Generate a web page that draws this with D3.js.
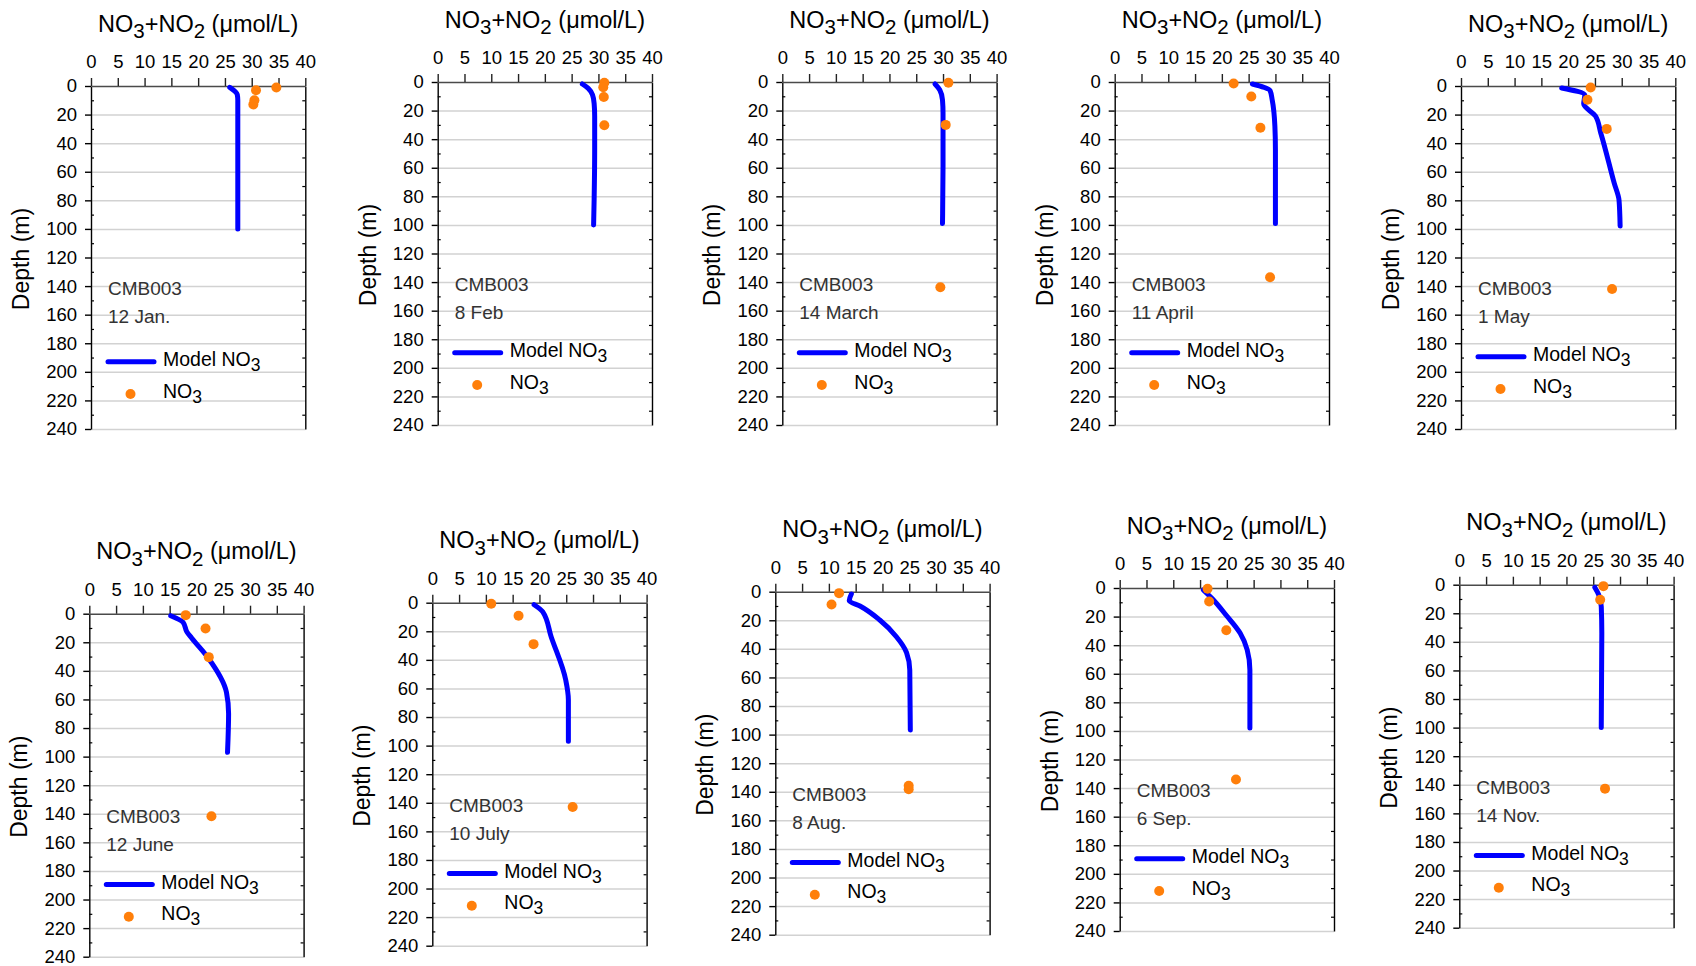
<!DOCTYPE html>
<html>
<head>
<meta charset="utf-8">
<script src="https://cdn.jsdelivr.net/npm/d3@7"></script>
<style>
  html, body { margin: 0; padding: 0; background: #fff; }
  svg { display: block; font-family: "Liberation Sans", Arial, sans-serif; }
</style>
</head>
<body>
<svg id="chart" width="1696" height="966"></svg>
<script>
// ---------------- data ----------------
const xTicks = [0, 5, 10, 15, 20, 25, 30, 35, 40];
const yTicks = [0, 20, 40, 60, 80, 100, 120, 140, 160, 180, 200, 220, 240];
const gridTicks = [20, 40, 60, 80, 100, 120, 140, 160, 180, 200, 220, 240];
const minorTicks = [10, 30, 50, 70, 90, 110, 130, 150, 170, 190, 210, 230];

const station = "CMB003";
const dates = ["12 Jan.", "8 Feb", "14 March", "11 April", "1 May",
               "12 June", "10 July", "8 Aug.", "6 Sep.", "14 Nov."];

// model NO3 profiles: [depth (m), NO3+NO2 (umol/L)]
const modelJan = [[1, 25.9], [6, 27.3], [10, 27.4], [100, 27.4]];
const modelFeb = [[1.4, 27.0], [4.4, 28.1], [9, 28.9], [15, 29.2], [24, 29.3], [48, 29.3], [82, 29.2], [100, 29.1]];
const modelMar = [[1.4, 28.5], [5.6, 29.4], [12.6, 29.9], [22, 30.0], [59, 30.0], [99, 29.9]];
const modelApr = [[1.4, 25.7], [6, 29.0], [12.6, 29.4], [31, 29.9], [47.5, 30.0], [99, 30.0]];
const modelMay = [[1.4, 18.8], [6.3, 23.1], [12.5, 22.9], [21, 25.1], [33, 26.1], [68, 28.6], [80, 29.5], [98, 29.7]];
const modelJun = [[1.4, 15.2], [6, 17.5], [12.6, 18.2], [17, 19.1], [31, 22.2], [55, 25.6], [70, 26.0], [97, 25.8]];
const modelJul = [[1.4, 19.0], [6.3, 20.6], [24, 22.2], [54, 24.9], [68, 25.4], [97, 25.4]];
const modelAug = [[1.6, 14.2], [6.3, 13.8], [10, 15.8], [19.8, 19.5], [31.5, 22.6], [42.6, 24.5], [54.8, 25.1], [96.7, 25.2]];
const modelSep = [[1.4, 15.6], [7.2, 17.2], [19.6, 20.0], [31.7, 22.5], [43.3, 23.8], [57.3, 24.3], [98, 24.3]];
const modelNov = [[1.9, 25.3], [6.8, 26.0], [15.4, 26.5], [34, 26.6], [100, 26.5]];

// observed NO3: [depth (m), NO3+NO2 (umol/L)]
const obsJan = [[1, 34.6], [3, 30.8], [10, 30.5], [13, 30.3]];
const obsFeb = [[0.5, 31.1], [3.7, 30.9], [10.5, 31.0], [30.3, 31.1]];
const obsMar = [[0.5, 31.0], [30, 30.5], [143.6, 29.5]];
const obsApr = [[1, 22.2], [10.2, 25.5], [32, 27.2], [136.6, 29.0]];
const obsMay = [[1, 24.2], [9.6, 23.6], [30, 27.2], [142, 28.2]];
const obsJun = [[1, 18.0], [10.3, 21.7], [30.4, 22.3], [141.7, 22.8]];
const obsJul = [[0.7, 11.0], [9.1, 16.1], [29, 18.9], [143, 26.2]];
const obsAug = [[1, 11.9], [9, 10.5], [135.8, 24.9], [138.2, 24.9]];
const obsSep = [[0.5, 16.4], [9.5, 16.7], [29.6, 19.9], [134, 21.7]];
const obsNov = [[1, 26.9], [10.5, 26.3], [142.7, 27.2]];

const models = [modelJan, modelFeb, modelMar, modelApr, modelMay, modelJun, modelJul, modelAug, modelSep, modelNov];
const obs = [obsJan, obsFeb, obsMar, obsApr, obsMay, obsJun, obsJul, obsAug, obsSep, obsNov];

// ---------------- layout ----------------
const panelLeft = [91, 437.7, 782.3, 1114.7, 1461, 89.3, 432.3, 775.3, 1119.7, 1459.3];
const panelTop = [86, 82, 82, 82, 86, 613.7, 602.7, 591.7, 588, 584.7];
const legendShift = [5, 0, 0, 0, 0, 0, 0, 0, 0, 0];
const W = 214.3, H = 343;

const lineColor = "#0000ff";
const dotColor = "#ff7f0a";
const font = "'Liberation Sans', Arial, sans-serif";

const svg = d3.select("#chart");

function richText(sel, parts, fs, subFs, drop) {
  let shifted = false;
  parts.forEach(p => {
    const t = sel.append("tspan").text(p[0]);
    if (p[1]) {
      t.attr("font-size", subFs).attr("dy", drop);
      shifted = true;
    } else {
      t.attr("font-size", fs);
      if (shifted) { t.attr("dy", -drop); shifted = false; }
    }
  });
}

const titleParts = [["NO", false], ["3", true], ["+NO", false], ["2", true], [" (\u03bcmol/L)", false]];
const legendModelParts = [["Model NO", false], ["3", true]];
const legendObsParts = [["NO", false], ["3", true]];

models.forEach((model, i) => {
  const g = svg.append("g").attr("transform", `translate(${panelLeft[i]},${panelTop[i]})`);
  const x = d3.scaleLinear().domain([0, 40]).range([0, W]);
  const y = d3.scaleLinear().domain([0, 240]).range([0, H]);

  // gridlines
  const grid = g.append("g").call(d3.axisLeft(y).tickValues(gridTicks).tickSize(-W).tickFormat(""));
  grid.select(".domain").remove();
  grid.selectAll("line").attr("stroke", "#d2d2d2").attr("stroke-width", 1.5);

  // right border with inward minor ticks
  const rb = g.append("g").attr("transform", `translate(${W},0)`)
    .call(d3.axisLeft(y).tickValues(minorTicks).tickSize(3).tickSizeOuter(0).tickFormat(""));
  rb.select(".domain").attr("stroke", "#000").attr("stroke-width", 1.4);
  rb.selectAll("line").attr("stroke", "#000").attr("stroke-width", 1.2);

  // left minor ticks (inward)
  const lm = g.append("g").call(d3.axisRight(y).tickValues(minorTicks).tickSize(3).tickFormat(""));
  lm.select(".domain").remove();
  lm.selectAll("line").attr("stroke", "#000").attr("stroke-width", 1.2);

  // left axis
  const ya = g.append("g").call(d3.axisLeft(y).tickValues(yTicks).tickSize(6).tickPadding(8).tickSizeOuter(0));
  ya.attr("font-family", font).attr("font-size", 18.5);
  ya.select(".domain").attr("stroke", "#000").attr("stroke-width", 1.4);
  ya.selectAll(".tick line").attr("stroke", "#000").attr("stroke-width", 1.4);
  ya.selectAll(".tick text").attr("fill", "#000");

  // top axis
  const xa = g.append("g").call(d3.axisTop(x).tickValues(xTicks).tickSize(8).tickPadding(10).tickSizeOuter(0));
  xa.attr("font-family", font).attr("font-size", 18.5);
  xa.select(".domain").attr("stroke", "#4a4a4a").attr("stroke-width", 1.6);
  xa.selectAll(".tick line").attr("stroke", "#222").attr("stroke-width", 1.4);
  xa.selectAll(".tick text").attr("fill", "#000");

  // title
  const title = g.append("text").attr("x", W / 2).attr("y", -54.5)
    .attr("text-anchor", "middle").attr("fill", "#000").attr("font-family", font);
  richText(title, titleParts, 23.5, 20.5, 6.5);

  // y title
  g.append("text")
    .attr("transform", `translate(-62,${H / 2 + 1.5}) rotate(-90)`)
    .attr("text-anchor", "middle").attr("font-family", font).attr("font-size", 23)
    .attr("fill", "#000").text("Depth (m)");

  // model line
  const line = d3.line().x(d => x(d[1])).y(d => y(d[0])).curve(d3.curveMonotoneY);
  g.append("path").datum(model).attr("d", line)
    .attr("fill", "none").attr("stroke", lineColor).attr("stroke-width", 5)
    .attr("stroke-linecap", "round").attr("stroke-linejoin", "round");

  // observations
  g.selectAll("circle.obs").data(obs[i]).join("circle").attr("class", "obs")
    .attr("cx", d => x(d[1])).attr("cy", d => y(d[0])).attr("r", 5).attr("fill", dotColor);

  // station + date labels
  g.append("text").attr("x", 17).attr("y", 209).attr("font-family", font)
    .attr("font-size", 19).attr("fill", "#333").text(station);
  g.append("text").attr("x", 17).attr("y", 237).attr("font-family", font)
    .attr("font-size", 19).attr("fill", "#333").text(dates[i]);

  // legend
  const ls = legendShift[i];
  g.append("line").attr("x1", 17).attr("x2", 63).attr("y1", 270.7 + ls).attr("y2", 270.7 + ls)
    .attr("stroke", lineColor).attr("stroke-width", 5).attr("stroke-linecap", "round");
  const lt1 = g.append("text").attr("x", 72).attr("y", 275 + ls).attr("font-family", font).attr("fill", "#000");
  richText(lt1, legendModelParts, 19.5, 17.5, 5);
  g.append("circle").attr("cx", 39.5).attr("cy", 303 + ls).attr("r", 5).attr("fill", dotColor);
  const lt2 = g.append("text").attr("x", 72).attr("y", 306.5 + ls).attr("font-family", font).attr("fill", "#000");
  richText(lt2, legendObsParts, 19.5, 17.5, 5);
});
</script>
</body>
</html>
